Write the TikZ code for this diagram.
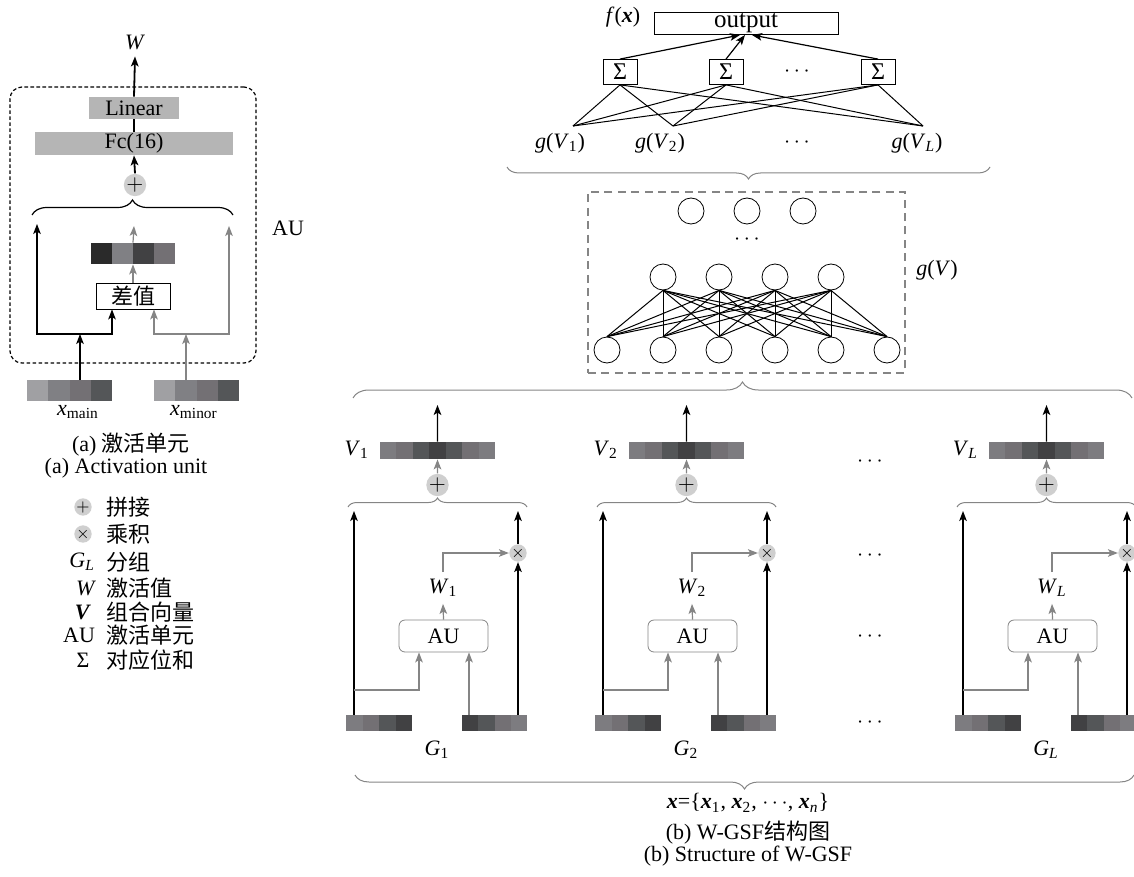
\documentclass[tikz,border=0pt]{standalone}
\usepackage{fontspec}
\setmainfont{Liberation Serif}
\newfontfamily\cjk{Noto Sans CJK SC}
\usetikzlibrary{positioning, arrows.meta, decorations.pathreplacing, calc, fit}

\definecolor{boxgray}{HTML}{B5B5B5}
\definecolor{linegray}{HTML}{858585}
\definecolor{dotgray}{HTML}{CFCFCF}
\definecolor{cA}{HTML}{A0A0A3}
\definecolor{cB}{HTML}{808084}
\definecolor{cC}{HTML}{737074}
\definecolor{cD}{HTML}{545658}
\definecolor{cE}{HTML}{414143}
\definecolor{cF}{HTML}{2A2A2A}
\definecolor{cG}{HTML}{7D7C80}

\newcommand{\sub}[1]{\textsubscript{#1}}
\newcommand{\bx}{\textbf{\textit{x}}}

% row of shaded cells: name, left x, top y, cell width, height, colours
\newcommand{\cellbar}[6]{%
  \coordinate (#1-nw) at (#2,#3);
  \foreach \cc [count=\ci from 0] in {#6}{
    \fill[\cc] ({#2+\ci*#4},#3) rectangle ++(#4,#5);
    \coordinate (#1-se) at ({#2+(\ci+1)*#4},{#3+#5});
  }
  \node[fit=(#1-nw)(#1-se), inner sep=0pt] (#1) {};
}

\tikzset{
  bk/.style={draw=black, line width=0.6pt, -{Stealth[length=5pt, width=3.8pt, inset=1.2pt]}},
  gy/.style={draw=linegray, line width=0.6pt, -{Stealth[length=5pt, width=3.8pt, inset=1.2pt]}},
  graybox/.style={fill=boxgray, inner sep=0pt},
  catdot/.style={circle, fill=dotgray, inner sep=0pt, minimum size=11pt},
  aubox/.style={draw=linegray, rounded corners=3pt, minimum width=44.5pt, minimum height=16pt},
  sumbox/.style={draw, minimum width=17pt, minimum height=12.5pt, inner sep=0pt, font=\fontsize{12}{12}\selectfont},
  neuron/.style={circle, draw, minimum size=13pt, inner sep=0pt},
  brc/.style={decorate, decoration={brace, amplitude=#1}, draw=linegray, line width=0.5pt},
}

\begin{document}
\begin{tikzpicture}[x=0.5pt, y=-0.5pt, font=\fontsize{11}{13}\selectfont]
    \useasboundingbox (0,0) rectangle (1134,877);

    % (a) activation unit
    \node[graybox, minimum width=45pt, minimum height=11pt] (lin) at (134,108) {Linear};
    \node[graybox, minimum width=99pt, minimum height=11.5pt] (fc) at (134,143.5) {Fc(16)};
    \node (wtop) at (135,42) {\textit{W}};
    \node[catdot] (cat) at (135,185) {$+$};
    \draw[bk, line width=0.9pt] (lin.north) -- (wtop.south);
    \draw[line width=1.2pt] (fc.north) -- (lin.south);
    \draw[bk, line width=0.9pt] (cat.north) -- (fc.south);
    \draw[decorate, decoration={brace, amplitude=7.5pt}, line width=0.6pt] (32,215) -- (233,215);
    \node[draw, dash pattern=on 1.8pt off 1.2pt, line width=0.6pt, rounded corners=6pt,
          minimum width=123pt, minimum height=138pt] (aubig) at (133,225) {};
    \node (aulab) at (288,228) {AU};
    \node[draw, minimum width=37pt, minimum height=13pt, inner sep=0pt] (diff) at (133,296) {\cjk 差值};
    \cellbar{dbar}{91}{243}{21}{21}{cF,cB,cE,cC}
    \cellbar{xmain}{27}{380}{21.25}{21}{cA,cB,cC,cD}
    \cellbar{xminor}{154}{380}{21.25}{21}{cA,cB,cC,cD}
    \node (lmain) at (78,412) {\textit{x}\sub{main}};
    \node (lminor) at (194,412) {\textit{x}\sub{minor}};
    \coordinate (tl) at (37,224);
    \coordinate (tm) at (134,226);
    \coordinate (tr) at (229,226);
    \coordinate (jl) at (80,334);
    \coordinate (jr) at (186,334);
    \coordinate (dl) at (112,0);
    \coordinate (dr) at (154,0);
    \draw[bk] (xmain.north -| jl) -- (jl);
    \draw[bk] (jl) -| (tl);
    \draw[bk] (jl) -| (diff.south -| dl);
    \draw[gy] (xminor.north -| jr) -- (jr);
    \draw[gy] (jr) -| (tr);
    \draw[gy] (jr) -| (diff.south -| dr);
    \draw[gy] (diff.north) -- (dbar.south);
    \draw[gy] (dbar.north) -- (tm);
    \node[inner sep=1pt] (capa) at (131,445) {(a) {\cjk 激活单元}};
    \node[inner sep=1pt] (capae) at (126,468) {(a) Activation unit};

    % legend
    \node[catdot, minimum size=8pt] (lg1) at (83,507) {\fontsize{8}{8}\selectfont$+$};
    \node[catdot, minimum size=8pt] (lg2) at (83,534) {\fontsize{8}{8}\selectfont$\times$};
    \node[anchor=east] (lg3) at (102,562) {\textit{G}\sub{\textit{L}}};
    \node (lg4) at (86,588) {\textit{W}};
    \node (lg5) at (83,612) {\textbf{\textit{V}}};
    \node[anchor=east] (lg6) at (102,635) {AU};
    \node (lg7) at (83,660) {Σ};
    \foreach \yy/\txt in {507/拼接, 534/乘积, 562/分组, 588/激活值, 612/组合向量, 635/激活单元, 660/对应位和}
        \node[anchor=west] (lt\yy) at (99,\yy) {\cjk \txt};

    % output layer
    \node[draw, minimum width=92pt, minimum height=11pt, inner sep=0pt, font=\fontsize{12.5}{13}\selectfont] (out) at (746,23) {output};
    \node (fx) at (623,17) {\textit{f}(\bx)};
    \node[sumbox] (s1) at (620,72) {Σ};
    \node[sumbox] (s2) at (726,72) {Σ};
    \node[sumbox] (sL) at (878,72) {Σ};
    \node (sdots) at (797,72) {$\cdots$};
    \coordinate (o1) at (740,35);
    \coordinate (o2) at (745,35);
    \coordinate (oL) at (752,35);
    \draw[bk] (s1.north) -- (o1);
    \draw[bk] (s2.north) -- (o2);
    \draw[bk] (sL.north) -- (oL);
    \coordinate (g1) at (573,126);
    \coordinate (g2) at (673,126);
    \coordinate (gL) at (923,126);
    \foreach \a in {s1,s2,sL}
        \foreach \b in {g1,g2,gL}
            \draw[line width=0.5pt] (\a.south) -- (\b);
    \node (gv1) at (560,143) {\textit{g}(\textit{V}\sub{1})};
    \node (gv2) at (660,143) {\textit{g}(\textit{V}\sub{2})};
    \node (gvd) at (797,143) {$\cdots$};
    \node (gvL) at (917,143) {\textit{g}(\textit{V}\sub{\textit{L}})};
    \draw[brc=6pt] (990,167) -- (507,167);

    % g(V) network
    \node[draw=linegray, dash pattern=on 4pt off 2.7pt, line width=1.1pt,
          minimum width=158.5pt, minimum height=90.5pt] (nn) at (746.5,282.5) {};
    \node (gv) at (937,270) {\textit{g}(\textit{V})};
    \foreach \i in {1,...,6}
        \node[neuron] (b\i) at ({607+56*(\i-1)},350) {};
    \foreach \i in {1,...,4}
        \node[neuron] (m\i) at ({663+56*(\i-1)},277) {};
    \foreach \i in {1,2,3}
        \node[neuron] (t\i) at ({691+56*(\i-1)},211) {};
    \node (ndots) at (747,240) {$\cdots$};
    \foreach \i in {1,...,4}
        \foreach \j in {1,...,6}
            \draw[line width=0.5pt] (m\i.south) -- (b\j.north);
    \draw[brc=8pt] (353,398) -- (1132,398);

    % groups
    \foreach \dx/\g/\s in {0/1/1, 249/2/2, 609/L/\textit{L}}{
      \begin{scope}[shift={(\dx,0)}]
        \cellbar{v\g}{380}{442}{16.43}{17}{cG,cC,cD,cE,cD,cC,cG}
        \node[anchor=east] (vl\g) at (376,450) {\textit{V}\sub{\s}};
        \coordinate (vt\g) at (437.5,405);
        \draw[bk] (v\g.north) -- (vt\g);
        \node[catdot, minimum size=9pt] (pl\g) at (437.5,485) {$+$};
        \draw[gy] (pl\g.north) -- (v\g.south);
        \draw[brc=4.5pt] (348,507) -- (527,507);
        \cellbar{lb\g}{346}{715}{16.5}{16}{cG,cC,cD,cE}
        \cellbar{rb\g}{462}{715}{16.25}{16}{cE,cD,cC,cG}
        \node (gl\g) at (437,750) {\textit{G}\sub{\s}};
        \coordinate (lt\g) at (354,511);
        \coordinate (rt\g) at (518,511);
        \coordinate (jn\g) at (354,690);
        \coordinate (al\g) at (419,0);
        \coordinate (ar\g) at (469,0);
        \node[catdot, minimum size=8pt] (ml\g) at (518,553) {\fontsize{8}{8}\selectfont$\times$};
        \node[aubox] (au\g) at (443.5,636) {AU};
        \node (wl\g) at (443,588) {\textit{W}\sub{\s}};
        \draw[bk] (lb\g.north -| lt\g) -- (lt\g);
        \draw[bk] (rb\g.north -| ml\g) -- (ml\g.south);
        \draw[bk] (ml\g.north) -- (rt\g);
        \draw[gy] (au\g.north) -- (wl\g.south);
        \draw[gy] (wl\g.north) |- (ml\g.west);
        \draw[gy] (jn\g) -| (au\g.south -| al\g);
        \draw[gy] (rb\g.north -| ar\g) -- (au\g.south -| ar\g);
      \end{scope}
    }
    \foreach \yy in {462,556,637,723}
        \node (gd\yy) at (870,\yy) {$\cdots$};
    \draw[brc=7pt] (1134,775) -- (355,775);

    % captions
    \node (xset) at (748,803) {\bx=\{\bx\sub{1}, \bx\sub{2}, $\cdots$, \bx\sub{\textit{n}}\}};
    \node (capb) at (748,833) {(b) W-GSF{\cjk 结构图}};
    \node (capbe) at (748,856) {(b) Structure of W-GSF};
\end{tikzpicture}
\end{document}
